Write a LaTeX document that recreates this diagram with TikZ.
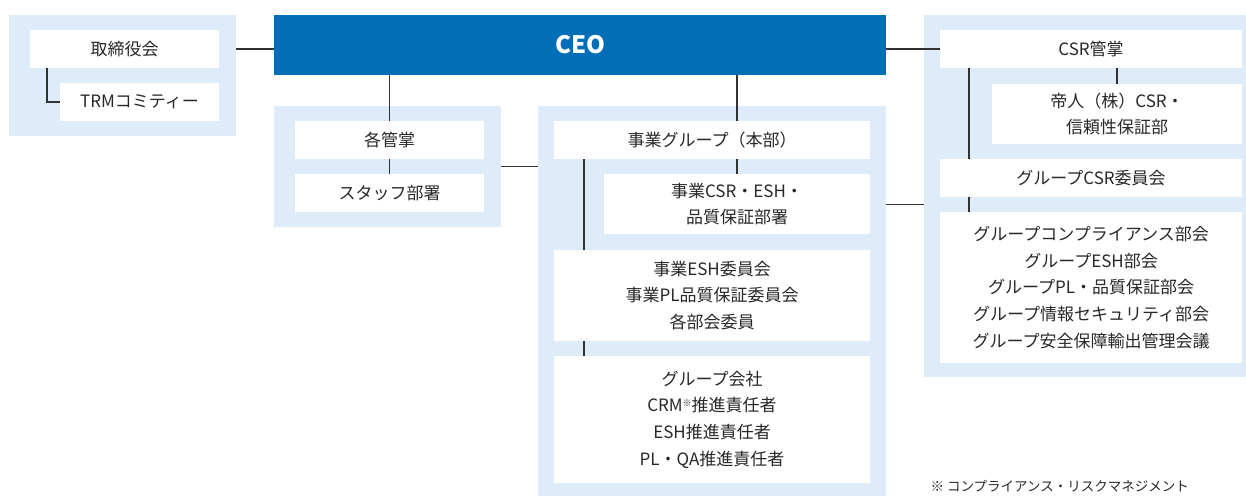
\documentclass[tikz,border=0pt]{standalone}
\usepackage{fontspec}
\setmainfont{Noto Sans CJK JP}
\usetikzlibrary{calc}
\definecolor{bgblue}{RGB}{222,235,248}
\definecolor{ceoblue}{RGB}{3,110,184}
\definecolor{txt}{RGB}{40,40,40}
\definecolor{ln}{RGB}{50,50,50}
\begin{document}
\begin{tikzpicture}[x=1pt,y=-1pt,
  bgbox/.style={fill=bgblue, draw=none, inner sep=0pt, outer sep=0pt, anchor=north west},
  wbox/.style={fill=white, draw=none, inner sep=0pt, outer sep=0pt, anchor=north west, align=center, text=txt, font=\fontsize{17}{26.7}\selectfont},
  ceobox/.style={fill=ceoblue, draw=none, inner sep=0pt, outer sep=0pt, anchor=north west, text=white, font=\fontsize{24}{28}\selectfont\bfseries},
  conn/.style={draw=ln, line width=1.1pt},
  note/.style={anchor=base west, text=txt, font=\fontsize{13.5}{16}\selectfont}]
\useasboundingbox (0,0) rectangle (1246,495);
\clip (0,0) rectangle (1246,495);
% background groups
\node[bgbox, minimum width=227, minimum height=121] (bgA) at (9,15) {};
\node[bgbox, minimum width=227, minimum height=121] (bgB) at (274,106) {};
\node[bgbox, minimum width=348, minimum height=400] (bgC) at (538,106) {};
\node[bgbox, minimum width=334, minimum height=362] (bgD) at (924,15) {};
% CEO
\node[ceobox, minimum width=612, minimum height=60] (ceo) at (274,15) {CEO};
% left group
\node[wbox, minimum width=189, minimum height=38] (board) at (30,30) {取締役会};
\node[wbox, minimum width=159, minimum height=38] (trm) at (60,83) {TRMコミティー};
% middle-left group
\node[wbox, minimum width=189, minimum height=38] (kaku) at (295,121) {各管掌};
\node[wbox, minimum width=189, minimum height=38] (staff) at (295,174) {スタッフ部署};
% middle group
\node[wbox, minimum width=316, minimum height=38] (jigyo) at (554,121) {事業グループ（本部）};
\node[wbox, minimum width=266, minimum height=60] (jcsr) at (604,174) {事業CSR・ESH・\\品質保証部署};
\node[wbox, minimum width=316, minimum height=91] (jesh) at (554,250) {事業ESH委員会\\事業PL品質保証委員会\\各部会委員};
\node[wbox, minimum width=316, minimum height=127] (gkai) at (554,356) {グループ会社\\CRM{\fontsize{9}{9}\selectfont\raisebox{5pt}{※}}推進責任者\\ESH推進責任者\\PL・QA推進責任者};
% right group
\node[wbox, minimum width=302, minimum height=38] (csr) at (940,30) {CSR管掌};
\node[wbox, minimum width=250, minimum height=60] (teijin) at (992,84) {帝人（株）CSR・\\信頼性保証部};
\node[wbox, minimum width=302, minimum height=38] (gcsr) at (940,159) {グループCSR委員会};
\node[wbox, minimum width=302, minimum height=151] (gcomp) at (940,212) {グループコンプライアンス部会\\グループESH部会\\グループPL・品質保証部会\\グループ情報セキュリティ部会\\グループ安全保障輸出管理会議};
% footnote
\node[note] (fn) at (927,491.5) {※ コンプライアンス・リスクマネジメント};
% helper coordinates
\coordinate (midB) at ($(kaku.south)!0.5!(staff.north)$);
\coordinate (midD) at ($(gcsr.south)!0.5!(gcomp.north)$);
% connectors
\draw[conn] (bgA.east |- board) -- (ceo.west |- board);
\draw[conn] ([xshift=17pt]board.south west) |- (trm.west);
\draw[conn] (kaku.north |- ceo.south) -- (kaku.north);
\draw[conn] (kaku.south) -- (staff.north);
\draw[conn] (bgB.east |- midB) -- (bgC.west |- midB);
\draw[conn] (jcsr.north |- ceo.south) -- (jcsr.north |- jigyo.north);
\draw[conn] (jcsr.north |- jigyo.south) -- (jcsr.north);
\draw[conn] ([xshift=30pt]jigyo.south west) -- ([xshift=30pt]jesh.north west);
\draw[conn] ([xshift=30pt]jesh.south west) -- ([xshift=30pt]gkai.north west);
\draw[conn] (ceo.east |- csr) -- (csr.west);
\draw[conn] (teijin.north |- csr.south) -- (teijin.north);
\draw[conn] ([xshift=29pt]csr.south west) -- ([xshift=29pt]gcsr.north west);
\draw[conn] ([xshift=29pt]gcsr.south west) -- ([xshift=29pt]gcomp.north west);
\draw[conn] (bgC.east |- midD) -- (bgD.west |- midD);
\end{tikzpicture}
\end{document}
